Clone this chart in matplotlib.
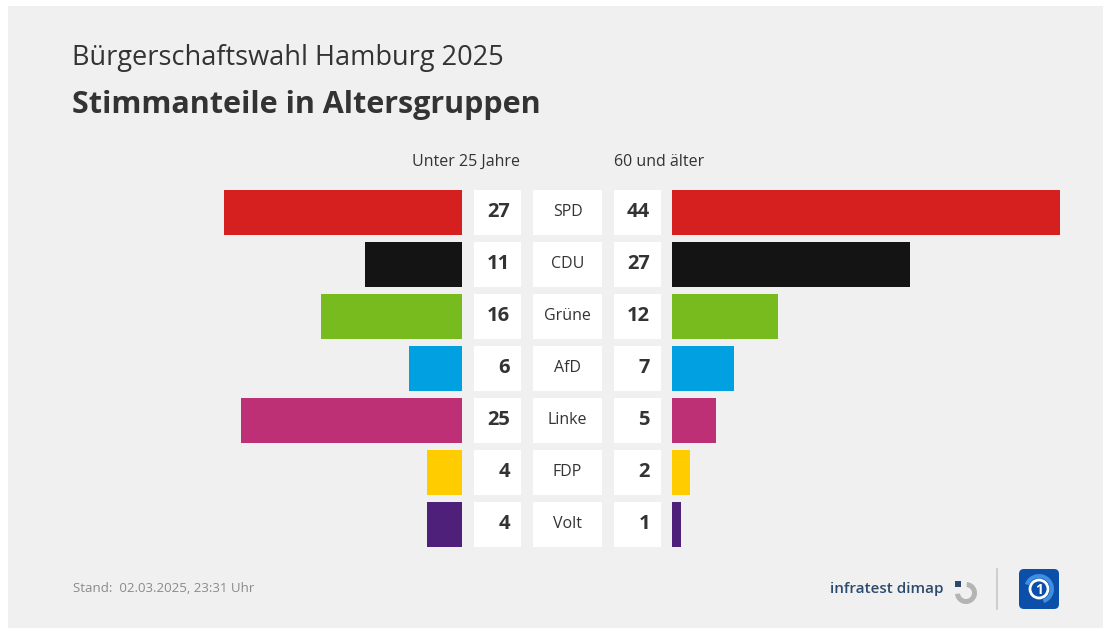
"""Bürgerschaftswahl Hamburg 2025 – Stimmanteile in Altersgruppen."""
import matplotlib
matplotlib.use("Agg")
from matplotlib import pyplot as plt
from matplotlib.patches import Circle, FancyBboxPatch, Rectangle, Wedge

parties = ["SPD", "CDU", "Grüne", "AfD", "Linke", "FDP", "Volt"]
under_25 = [27, 11, 16, 6, 25, 4, 4]
over_60 = [44, 27, 12, 7, 5, 2, 1]
colors = ["#d61f1f", "#141414", "#78bb1e", "#00a0e1", "#bd3075", "#ffcc00", "#4e2079"]

group_labels = ["Unter 25 Jahre", "60 und älter"]
title = "Bürgerschaftswahl Hamburg 2025"
subtitle = "Stimmanteile in Altersgruppen"
footer = "Stand:  02.03.2025, 23:31 Uhr"

W, H = 1110, 630
BG = "#f0f0f0"
TEXT = "#333333"
FONT = ["Open Sans", "DejaVu Sans"]
plt.rcParams["font.family"] = FONT

fig = plt.figure(figsize=(W / 100, H / 100), dpi=100)
fig.patch.set_facecolor("white")

# background axes in pixel coordinates (y downwards)
bg = fig.add_axes([0, 0, 1, 1])
bg.set_xlim(0, W)
bg.set_ylim(H, 0)
bg.axis("off")
bg.add_patch(Rectangle((8, 6), 1095, 622, facecolor=BG, edgecolor="none"))

# ------------------------------------------------------------------
# geometry: 52 px per row, 8.82 px per percentage point
px_per_unit = 8.82
row_top, row_bottom = 186, 550
n = len(parties)
rows = list(range(n))
bar_h = 45 / 52

left_max, right_max = 30, 45
left_edge, right_edge = 462, 672


def make_ax(x0, x1):
    ax = fig.add_axes([x0 / W, 1 - row_bottom / H, (x1 - x0) / W, (row_bottom - row_top) / H])
    ax.set_ylim(n - 0.5, -0.5)
    ax.axis("off")
    return ax


ax_l = make_ax(left_edge - px_per_unit * left_max, left_edge)
ax_l.set_xlim(left_max, 0)
ax_l.barh(rows, under_25, height=bar_h, color=colors)

ax_r = make_ax(right_edge, right_edge + px_per_unit * right_max)
ax_r.set_xlim(0, right_max)
ax_r.barh(rows, over_60, height=bar_h, color=colors)

# middle: white boxes with numbers and party names (pixel x units)
ax_m = make_ax(left_edge, right_edge)
ax_m.set_xlim(left_edge, right_edge)
for x0, w in [(474, 47), (533, 69), (614, 47)]:
    ax_m.barh(rows, w, left=x0, height=bar_h, color="white")
for i in rows:
    ax_m.text(510, i, str(under_25[i]), ha="right", va="center",
              fontsize=14.5, fontweight="bold", color=TEXT)
    ax_m.text(567.5, i, parties[i], ha="center", va="center",
              fontsize=11.5, color=TEXT)
    ax_m.text(650, i, str(over_60[i]), ha="right", va="center",
              fontsize=14.5, fontweight="bold", color=TEXT)

# column headers
bg.text(466, 162, group_labels[0], ha="center", va="center",
        fontsize=11.5, color=TEXT)
bg.text(659, 162, group_labels[1], ha="center", va="center",
        fontsize=11.5, color=TEXT)

# titles
bg.text(72, 58, title, ha="left", va="center", fontsize=19.5, color=TEXT)
bg.text(72, 105, subtitle, ha="left", va="center",
        fontsize=22, fontweight="bold", color=TEXT)

# footer
bg.text(73, 589, footer, ha="left", va="center", fontsize=9.5, color="#8a8a8a")

# infratest dimap logo (y axis is inverted: 270 deg points up)
bg.text(944, 589, "infratest dimap", ha="right", va="center",
        fontsize=11, fontweight="semibold", color="#2c4a6e")
bg.add_patch(Wedge((966, 593), 11, 275, 535, width=5, facecolor="#b4b4b4",
                   edgecolor="none"))
bg.add_patch(Rectangle((955, 581), 6, 6, facecolor="#2c4a6e", edgecolor="none"))

# divider and ARD logo
bg.plot([997, 997], [569, 609], color="#c8c8c8", lw=1.2)
bg.add_patch(FancyBboxPatch((1019, 569), 40, 40,
                            boxstyle="round,pad=0,rounding_size=5",
                            facecolor="#0b4fa8", edgecolor="none"))
bg.add_patch(Wedge((1039, 589), 15, 200, 70, width=4, facecolor="#3f8fe0",
                   edgecolor="none"))
bg.add_patch(Circle((1039, 589), 9, facecolor="none", edgecolor="white", lw=2))
bg.text(1039, 589.5, "1", ha="center", va="center",
        fontsize=10, fontweight="bold", color="white")

fig.savefig("out.png", dpi=100, facecolor=fig.get_facecolor())
